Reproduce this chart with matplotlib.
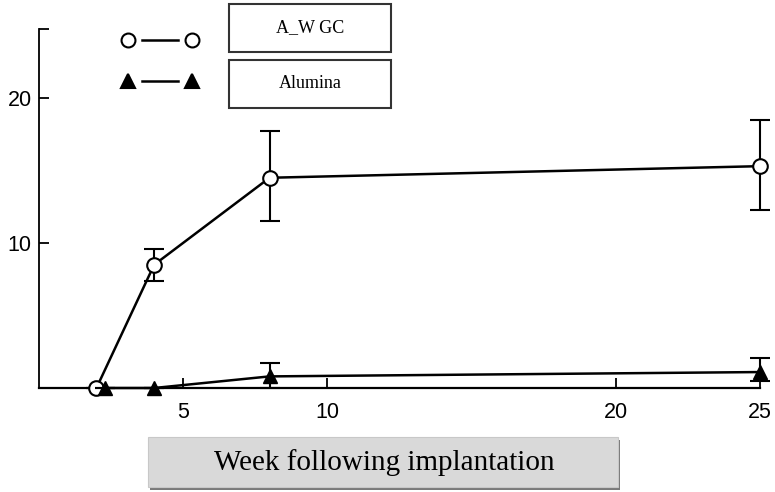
import numpy as np
import matplotlib
matplotlib.use('Agg')
import matplotlib.pyplot as plt
from matplotlib.patches import Rectangle
from matplotlib.lines import Line2D

# Data
weeks_awgc = [2, 4, 8, 25]
val_awgc = [0, 8.5, 14.5, 15.3]
err_awgc_lo = [0, 1.1, 3.0, 3.0]
err_awgc_hi = [0, 1.1, 3.2, 3.2]

weeks_alu = [2.3, 4, 8, 25]
val_alu = [0, 0, 0.8, 1.1]
err_alu_lo = [0, 0, 0.8, 0.6]
err_alu_hi = [0, 0, 0.95, 1.0]

xticks = [5, 10, 20, 25]
yticks = [10, 20]
series_names = ['A_W GC', 'Alumina']
xlabel = 'Week following implantation'

W, H = 775, 492
fig = plt.figure(figsize=(W / 100, H / 100), dpi=100)
ax = fig.add_axes([38.75 / W, 1 - 388 / H, (760 - 38.75) / W, (388 - 29) / H])
ax.set_xlim(0, 25)
ax.set_ylim(0, 24.76)

# A_W GC: open circles
ax.errorbar(weeks_awgc, val_awgc, yerr=[err_awgc_lo, err_awgc_hi], fmt='-o', color='black',
            mfc='white', mec='black', mew=1.5, ms=10.5, lw=1.8, elinewidth=1.5,
            capsize=7, capthick=1.5, clip_on=False, zorder=3)
# Alumina: filled triangles
ax.errorbar(weeks_alu, val_alu, yerr=[err_alu_lo, err_alu_hi], fmt='-^', color='black',
            mfc='black', mec='black', ms=10, lw=1.8, elinewidth=1.5,
            capsize=7, capthick=1.5, clip_on=False, zorder=4)

for s in ['top', 'right']:
    ax.spines[s].set_visible(False)
ax.spines['left'].set_linewidth(1.3)
ax.spines['bottom'].set_linewidth(1.6)

ax.set_xticks(xticks)
ax.set_xticklabels([str(t) for t in xticks])
ax.set_yticks(yticks)
ax.set_yticklabels([str(t) for t in yticks])
ax.set_yticks([ax.get_ylim()[1]], minor=True)
ax.tick_params(axis='both', which='both', direction='in', length=7, width=1.3,
               labelsize=15.5)
ax.tick_params(axis='x', pad=10)
ax.tick_params(axis='y', pad=5)
for lab in ax.get_xticklabels() + ax.get_yticklabels():
    lab.set_fontfamily('Liberation Sans')

# Legend drawn by hand: marker pairs plus boxed labels
def fx(px):
    return px / W

def fy(py):
    return 1 - py / H

leg_rows = [(40, 'o', 'white'), (81, '^', 'black')]
for (py, mk, fc), name in zip(leg_rows, series_names):
    fig.add_artist(Line2D([fx(142), fx(178)], [fy(py), fy(py)], color='black', lw=1.8,
                          transform=fig.transFigure))
    fig.add_artist(Line2D([fx(128), fx(192)], [fy(py), fy(py)], ls='none', marker=mk,
                          ms=10, mfc=fc, mec='black', mew=1.5, transform=fig.transFigure))
    top = py - 36 if py == 40 else py - 21
    fig.add_artist(Rectangle((fx(229), fy(top + 48)), fx(162), 48 / H, facecolor='white',
                             edgecolor='#333333', lw=1.5, transform=fig.transFigure))
    fig.text(fx(310), fy(top + 24), name, ha='center', va='center', fontsize=13,
             family='Liberation Serif')

# X label in a grey shaded box
fig.add_artist(Rectangle((fx(150), fy(490)), fx(470), 50 / H, facecolor='#7a7a7a',
                         edgecolor='none', transform=fig.transFigure))
fig.add_artist(Rectangle((fx(148), fy(487)), fx(470), 50 / H, facecolor='#d9d9d9',
                         edgecolor='#c8c8c8', lw=0.8, transform=fig.transFigure))
fig.text(fx(384), fy(463), xlabel, ha='center', va='center', fontsize=21,
         family='Liberation Serif')

fig.savefig('out.png', dpi=100)
